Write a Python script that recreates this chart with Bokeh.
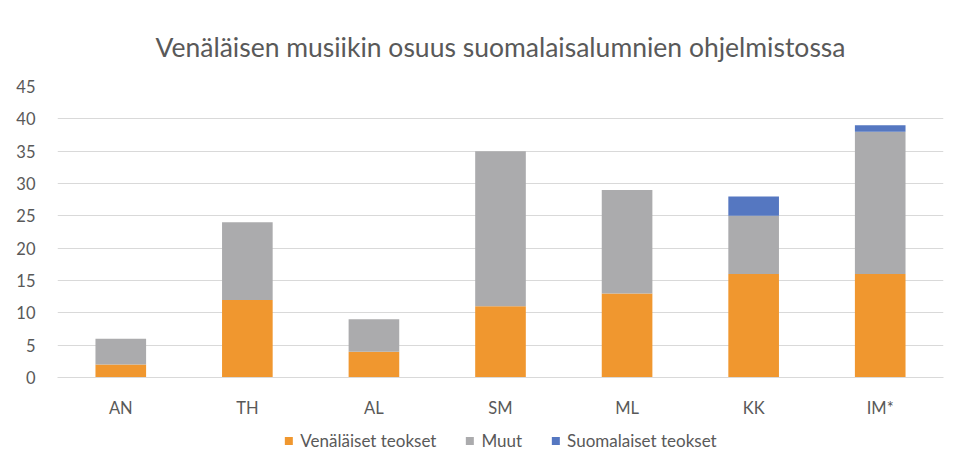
from bokeh.plotting import figure
from bokeh.layouts import column
from bokeh.models import Legend, LegendItem, Range1d, FixedTicker, FactorRange
from bokeh.embed import file_html
from bokeh.resources import INLINE

categories = ["AN", "TH", "AL", "SM", "ML", "KK", "IM*"]
venalaiset = [2, 12, 4, 11, 13, 16, 16]
muut = [4, 12, 5, 24, 16, 9, 22]
suomalaiset = [0, 0, 0, 0, 0, 3, 1]
series_names = ["Venäläiset teokset", "Muut", "Suomalaiset teokset"]
y_ticks = [0, 5, 10, 15, 20, 25, 30, 35, 40, 45]

colors = ["#F0972F", "#ABABAD", "#5577C1"]
FONT = "Lato"
TXT = "#595959"

data = {"cat": categories, "v": venalaiset, "m": muut, "s": suomalaiset}

p = figure(x_range=categories, y_range=Range1d(0, 45), width=944, height=420,
           output_backend="svg", toolbar_location=None,
           min_border_left=57, min_border_right=1, min_border_top=86, min_border_bottom=43)

r = p.vbar_stack(["v", "m", "s"], x="cat", width=0.4, color=colors, source=data, line_width=0)

p.title.text = "Venäläisen musiikin osuus suomalaisalumnien ohjelmistossa"
p.title.align = "center"
p.title.text_font = FONT
p.title.text_font_style = "normal"
p.title.text_font_size = "26.5px"
p.title.text_color = TXT
p.title.standoff = 48

p.yaxis.ticker = FixedTicker(ticks=y_ticks)
p.yaxis.axis_line_color = None
p.yaxis.major_tick_line_color = None
p.yaxis.minor_tick_line_color = None
p.yaxis.major_label_text_font = FONT
p.yaxis.major_label_text_font_size = "16.5px"
p.yaxis.major_label_text_color = TXT
p.yaxis.major_label_standoff = 16

p.xaxis.axis_line_color = "#D9D9D9"
p.xaxis.major_tick_line_color = None
p.xaxis.minor_tick_line_color = None
p.xaxis.major_label_text_font = FONT
p.xaxis.major_label_text_font_size = "16.5px"
p.xaxis.major_label_text_color = TXT
p.xaxis.major_label_standoff = 14

p.xgrid.grid_line_color = None
p.ygrid.grid_line_color = "#D9D9D9"
p.ygrid.grid_line_width = 1
p.outline_line_color = None
p.x_range.range_padding = 0

# legend strip below the chart: same series drawn out of its view, only the legend shows
lg = figure(width=944, height=40, output_backend="svg", toolbar_location=None,
            x_range=FactorRange(factors=categories), y_range=Range1d(1000, 1001), min_border=0)
lg.axis.visible = False
lg.grid.grid_line_color = None
lg.outline_line_color = None
lg_r = lg.vbar_stack(["v", "m", "s"], x="cat", width=0.4, color=colors, source=data, line_width=0)

legend = Legend(items=[LegendItem(label=n, renderers=[rr]) for n, rr in zip(series_names, lg_r)],
                orientation="horizontal", location="center",
                label_text_font=FONT, label_text_font_size="17px", label_text_color=TXT,
                glyph_width=10, glyph_height=10, spacing=28, label_standoff=7,
                border_line_color=None, background_fill_alpha=0, margin=0, padding=2)
lg.add_layout(legend)

layout = column(p, lg, spacing=0)
open("out.html", "w").write(file_html(layout, INLINE))
